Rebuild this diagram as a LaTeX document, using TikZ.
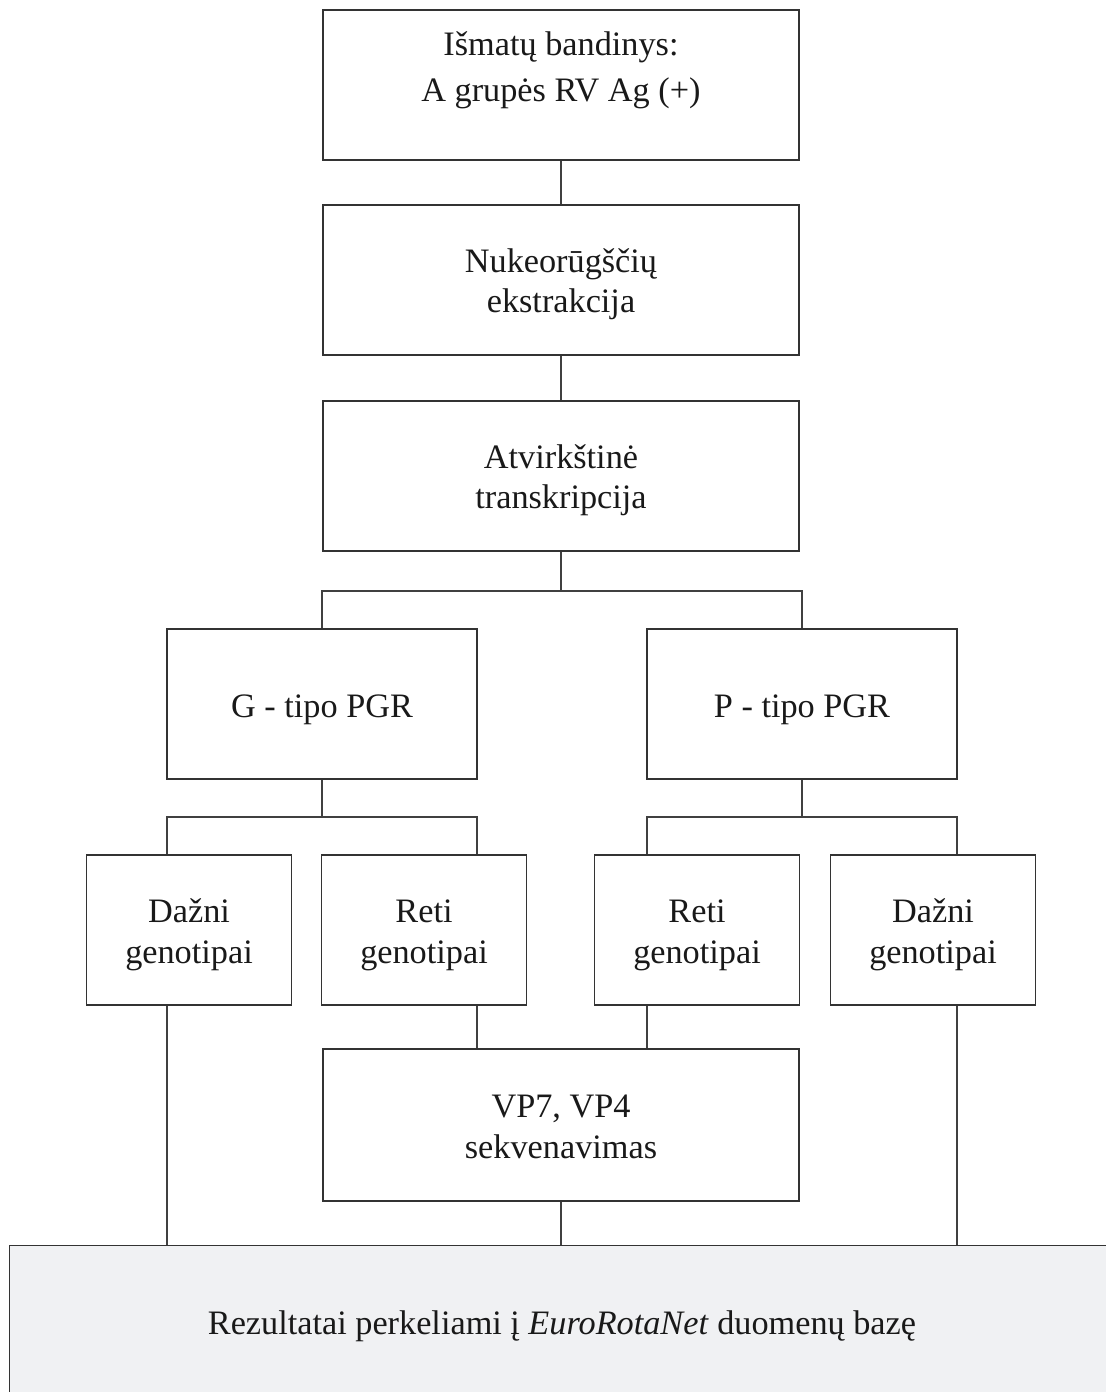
\documentclass[tikz,border=0pt]{standalone}
\usepackage{fontspec}
\setmainfont{Liberation Serif}
\usetikzlibrary{positioning}
\definecolor{resfill}{RGB}{240,241,243}

\begin{document}
\begin{tikzpicture}[
x=0.02cm,
y=-0.02cm,
box/.style={
  draw=black!80,
  line width=1pt,
  text=black!90,
  align=center,
  inner sep=0pt,
  text depth=0pt,
  minimum height=3cm,
  font=\fontsize{19.5}{23.3}\selectfont
  },
twoline/.style={
  box,
  text height=1.32cm
  },
wide/.style={
  twoline,
  minimum width=9.52cm
  },
mid/.style={
  box,
  text height=0.52cm,
  minimum width=6.2cm
  },
small/.style={
  twoline,
  minimum width=4.1cm
  },
link/.style={
  draw=black!75,
  line width=1pt
  }
]
\useasboundingbox (0,0) rectangle (1105,1392);

\node[wide, text height=0.68cm, font=\fontsize{19.5}{26.7}\selectfont] (smp) at (561,85)
  {Išmatų bandinys:\\A grupės RV Ag (+)};
\node[wide] (ext) at (561,280) {Nukeorūgščių\\ekstrakcija};
\node[wide] (rt) at (561,476) {Atvirkštinė\\transkripcija};

\node[mid] (pgrG) at (322,704) {G - tipo PGR};
\node[mid] (pgrP) at (802,704) {P - tipo PGR};

\node[small] (dzG) at (189,930) {Dažni\\genotipai};
\node[small] (rtG) at (424,930) {Reti\\genotipai};
\node[small] (rtP) at (697,930) {Reti\\genotipai};
\node[small] (dzP) at (933,930) {Dažni\\genotipai};

\node[wide, minimum height=3.04cm] (seq) at (561,1125) {VP7, VP4\\sekvenavimas};

\node[box, fill=resfill, text height=0.44cm, minimum width=22.1cm, minimum height=3.1cm] (res) at (562,1323)
  {Rezultatai perkeliami į \textit{EuroRotaNet} duomenų bazę};

\coordinate (s1) at (561,591);
\coordinate (gl) at (167,817);
\coordinate (gr) at (477,817);
\coordinate (pl) at (647,817);
\coordinate (pr) at (957,817);

\draw[link] (smp) -- (ext);
\draw[link] (ext) -- (rt);
\draw[link] (rt) -- (s1);
\draw[link] (pgrG) |- (s1) -| (pgrP);

\draw[link] (pgrG) -- (pgrG |- gl);
\draw[link] (pgrP) -- (pgrP |- pl);
\foreach \a/\b/\c/\d in {gl/gr/dzG/rtG, pl/pr/rtP/dzP}
  \draw[link] (\a |- \c.north) -- (\a) -- (\b) -- (\b |- \d.north);

\foreach \a/\c in {gl/dzG, pr/dzP}
  \draw[link] (\a |- \c.south) -- (\a |- res.north);
\foreach \a/\c in {gr/rtG, pl/rtP}
  \draw[link] (\a |- \c.south) -- (\a |- seq.north);
\draw[link] (seq) -- (seq |- res.north);

\end{tikzpicture}
\end{document}
